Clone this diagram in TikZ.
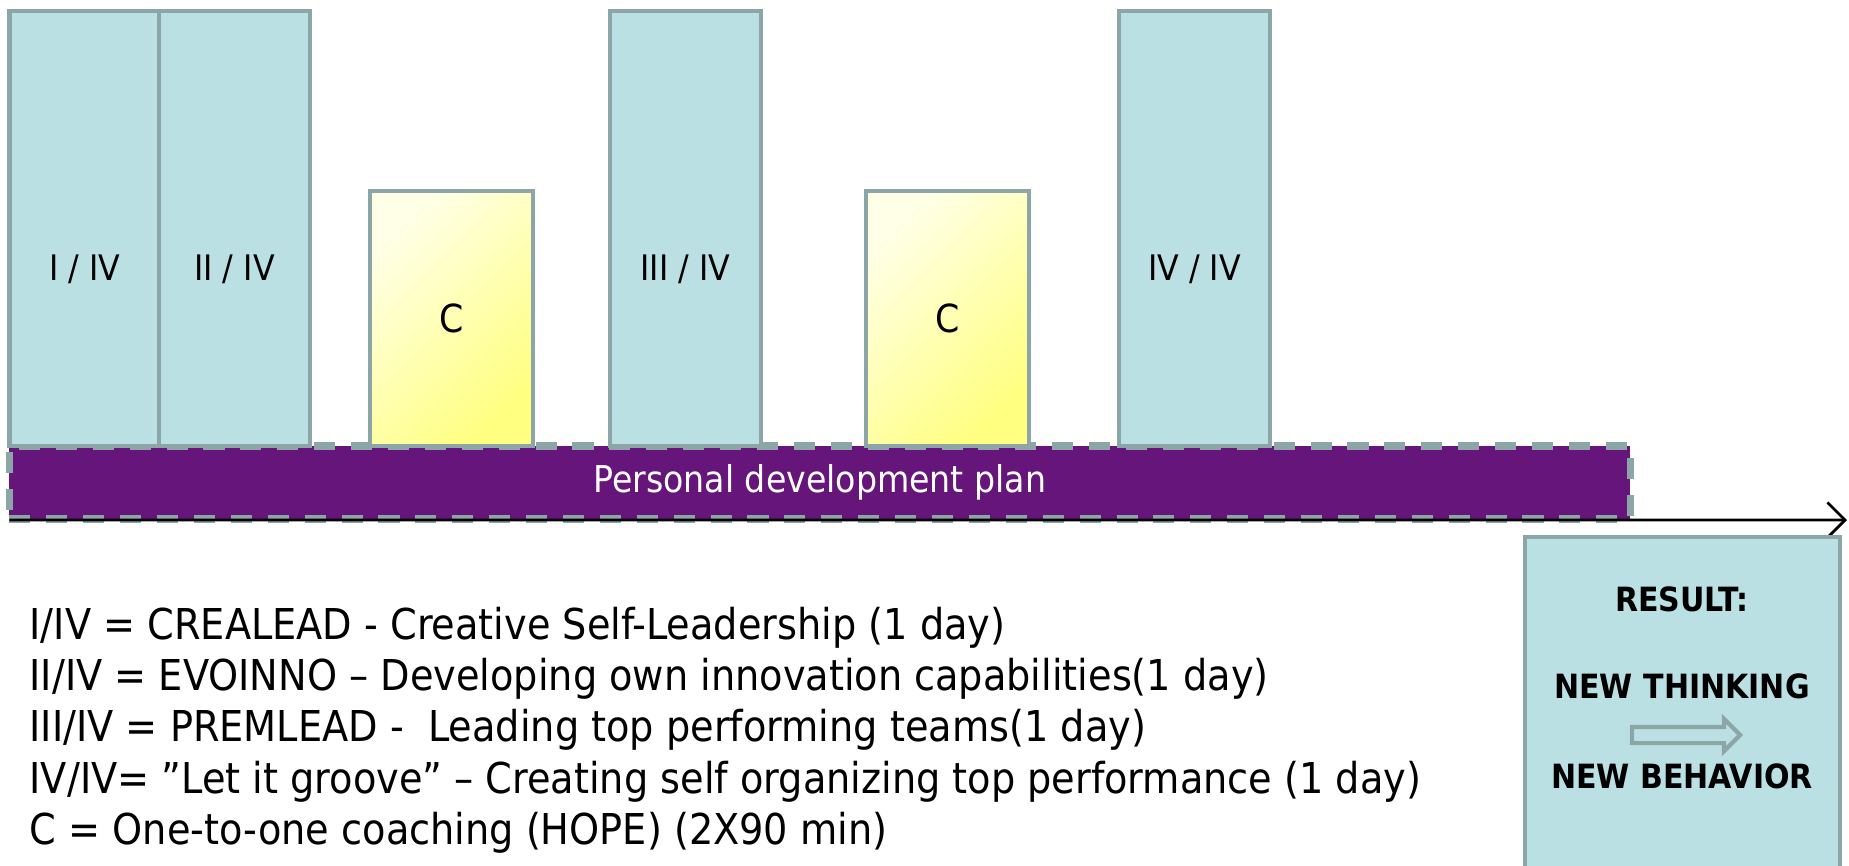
\documentclass[tikz,border=0pt]{standalone}
\usepackage{fontspec}
\setmainfont{DejaVu Sans Condensed}
\usetikzlibrary{shapes.arrows,arrows.meta}
\definecolor{boxblue}{HTML}{BBE0E3}
\definecolor{boxgray}{HTML}{8CA6A8}
\definecolor{planpurple}{HTML}{66167A}
\definecolor{coachlight}{HTML}{FFFFE8}
\definecolor{coachdark}{HTML}{FFFF80}

\begin{document}
\begin{tikzpicture}[
  module/.style={rectangle, draw=boxgray, fill=boxblue, line width=1.2pt, inner sep=0, outer sep=0,
    anchor=north west, minimum width=1.51cm, minimum height=4.35cm, font=\fontsize{11.5}{12}\selectfont},
  coach/.style={rectangle, draw=boxgray, line width=1.2pt, top color=coachlight, bottom color=coachdark,
    shading angle=45, inner sep=0, outer sep=0, anchor=north west, minimum width=1.63cm, minimum height=2.55cm,
    font=\fontsize{11}{12}\selectfont},
  modlabel/.style={yshift=-0.41cm, inner sep=0}
]
 \useasboundingbox (0,0) rectangle (18.49,-8.65);
 % axis and plan bar
 \node (plan) [rectangle, draw=boxgray, fill=planpurple, dash pattern=on 6pt off 4.5pt, line width=2pt,
   anchor=north west, minimum width=16.21cm, minimum height=0.73cm, inner sep=0, outer sep=0,
   text=white, font=\fontsize{10.5}{12}\selectfont] at (0.094,-4.46) {Personal development plan};
 \coordinate (axisend) at (18.47,-5.20);
 \draw [-{Straight Barb[length=5pt,width=10pt]}, line width=0.8pt] (plan.south west) ++(0,-0.01) -- (axisend);
 % modules
 \node (m1) [module, label={[modlabel]center:I / IV}]   at (0.094,-0.106) {};
 \node (m2) [module, label={[modlabel]center:II / IV}]  at (1.59,-0.106) {};
 \node (c1) [coach] at (3.70,-1.91) {C};
 \node (m3) [module, label={[modlabel]center:III / IV}] at (6.10,-0.106) {};
 \node (c2) [coach] at (8.66,-1.91) {C};
 \node (m4) [module, label={[modlabel]center:IV / IV}]  at (11.19,-0.106) {};
 % result
 \node (result) [rectangle, draw=boxgray, fill=boxblue, line width=1.2pt, anchor=north west, inner sep=0,
   outer sep=0, minimum width=3.15cm, minimum height=3.4cm] at (15.25,-5.37) {};
 \begin{scope}[every node/.style={font=\fontsize{9.5}{12}\selectfont\bfseries, inner sep=0}]
   \node (res)   at (16.82,-5.99) {RESULT:};
   \node (think) at (16.82,-6.86) {NEW THINKING};
   \node (behav) at (16.82,-7.76) {NEW BEHAVIOR};
 \end{scope}
 \node (change) [single arrow, draw=boxgray, fill=boxblue, line width=1.2pt, inner sep=0.06cm,
   minimum height=1.08cm, single arrow head extend=0.08cm] at (16.82,-7.35) {};
 % legend
 \node (legend) [anchor=west, align=left, inner sep=0, font=\fontsize{12.1}{14.6}\selectfont] at (0.29,-7.30)
   {I/IV = CREALEAD - Creative Self-Leadership (1 day)\\
    II/IV = EVOINNO – Developing own innovation capabilities(1 day)\\
    III/IV = PREMLEAD -\ \ Leading top performing teams(1 day)\\
    IV/IV= ”Let it groove” – Creating self organizing top performance (1 day)\\
    C = One-to-one coaching (HOPE) (2X90 min)};
\end{tikzpicture}
\end{document}
